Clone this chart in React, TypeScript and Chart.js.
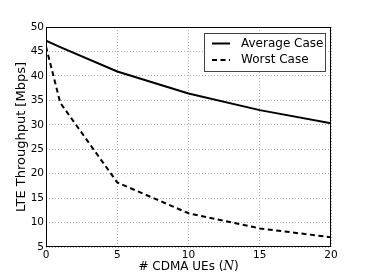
import React, { useEffect, useRef } from "react";
import { Chart, registerables } from "chart.js";

Chart.register(...registerables);

const xValues = [0, 1, 5, 10, 15, 20];
const averageCase = [47.2, 45.9, 40.9, 36.4, 33.0, 30.3];
const worstCase = [46.0, 34.5, 18.2, 11.9, 8.8, 7.0];
const seriesLabels = ["Average Case", "Worst Case"];
const xTitle = "# CDMA UEs (";
const xTitleVar = "N";
const yTitle = "LTE Throughput [Mbps]";

const FONT = "'DejaVu Sans', sans-serif";

const framePlugin = {
  id: "frameLegend",
  afterDraw(chart: any) {
    const { ctx, chartArea } = chart;
    ctx.save();
    ctx.strokeStyle = "#000";
    ctx.lineWidth = 1;
    ctx.strokeRect(chartArea.left + 0.5, chartArea.top + 0.5, chartArea.right - chartArea.left - 1, chartArea.bottom - chartArea.top - 1);

    // legend
    const w = 121, h = 38;
    const x0 = chartArea.right - 6 - w;
    const y0 = chartArea.top + 6;
    ctx.fillStyle = "#fff";
    ctx.fillRect(x0, y0, w, h);
    ctx.strokeStyle = "#444";
    ctx.strokeRect(x0 + 0.5, y0 + 0.5, w, h);
    const rows = [y0 + 10.5, y0 + 27];
    chart.data.datasets.forEach((ds: any, i: number) => {
      ctx.beginPath();
      ctx.setLineDash(ds.borderDash || []);
      ctx.lineWidth = ds.borderWidth;
      ctx.strokeStyle = ds.borderColor;
      ctx.moveTo(x0 + 8, rows[i]);
      ctx.lineTo(x0 + 26, rows[i]);
      ctx.stroke();
      ctx.setLineDash([]);
      ctx.fillStyle = "#000";
      ctx.font = `12px ${FONT}`;
      ctx.textBaseline = "middle";
      ctx.textAlign = "left";
      ctx.fillText(ds.label, x0 + 37, rows[i]);
    });

    // x-axis title with italic variable
    const cx = (chartArea.left + chartArea.right) / 2;
    const ty = 267;
    const a = xTitle;
    const b = xTitleVar;
    const c = ")";
    ctx.font = `12px ${FONT}`;
    const wa = ctx.measureText(a).width;
    ctx.font = `italic 12px 'DejaVu Serif', serif`;
    const wb = ctx.measureText(b).width;
    ctx.font = `12px ${FONT}`;
    const wc = ctx.measureText(c).width;
    let sx = cx - (wa + wb + wc) / 2;
    ctx.textBaseline = "middle";
    ctx.textAlign = "left";
    ctx.fillStyle = "#000";
    ctx.fillText(a, sx, ty);
    sx += wa;
    ctx.font = `italic 12px 'DejaVu Serif', serif`;
    ctx.fillText(b, sx, ty);
    sx += wb;
    ctx.font = `12px ${FONT}`;
    ctx.fillText(c, sx, ty);
    ctx.restore();
  },
};

export default function App() {
  const ref = useRef<HTMLCanvasElement>(null);
  useEffect(() => {
    document.body.style.margin = "0";
    const chart = new Chart(ref.current!, {
      type: "line",
      data: {
        datasets: [
          {
            label: seriesLabels[0],
            data: xValues.map((x, i) => ({ x, y: averageCase[i] })),
            borderColor: "#000",
            borderWidth: 2,
            pointRadius: 0,
            tension: 0,
            fill: false,
          },
          {
            label: seriesLabels[1],
            data: xValues.map((x, i) => ({ x, y: worstCase[i] })),
            borderColor: "#000",
            borderWidth: 2,
            borderDash: [5, 3.5],
            pointRadius: 0,
            tension: 0,
            fill: false,
          },
        ],
      },
      options: {
        responsive: false,
        animation: false,
        layout: { padding: { top: 27, right: 36, left: 0, bottom: 0 } },
        plugins: { legend: { display: false }, tooltip: { enabled: false } },
        scales: {
          x: {
            type: "linear",
            min: 0,
            max: 20,
            ticks: { stepSize: 5, color: "#000", font: { family: FONT, size: 10.5 }, padding: 2, maxRotation: 0 },
            grid: { color: "#aaa", drawTicks: false },
            border: { display: false, dash: [1, 2] } as any,
            afterFit: (s: any) => { s.height = 28; },
          },
          y: {
            min: 5,
            max: 50,
            ticks: { stepSize: 5, color: "#000", font: { family: FONT, size: 10.5 }, padding: 2 },
            grid: { color: "#aaa", drawTicks: false },
            border: { display: false, dash: [1, 2] } as any,
            title: { display: true, text: yTitle, color: "#000", font: { family: FONT, size: 13 }, padding: { top: 14, bottom: 0 } },
            afterFit: (s: any) => { s.width = 46; },
          },
        },
      },
      plugins: [framePlugin],
    } as any);
    return () => chart.destroy();
  }, []);
  return <canvas ref={ref} width={367} height={275} style={{ display: "block" }} />;
}
